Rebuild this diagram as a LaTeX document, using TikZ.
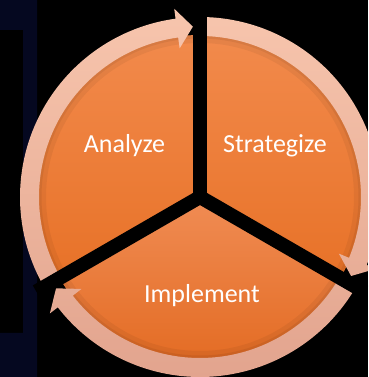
\documentclass[tikz,border=0pt]{standalone}
\usepackage{fontspec}
\setmainfont{Carlito}
\definecolor{navy}{RGB}{5,8,32}
\definecolor{orTop}{RGB}{242,138,76}
\definecolor{orBot}{RGB}{228,106,28}
\definecolor{imTop}{RGB}{240,140,84}
\definecolor{imBot}{RGB}{226,104,30}
\definecolor{rgTop}{RGB}{247,197,173}
\definecolor{rgBot}{RGB}{226,164,142}
\tikzset{
  lbl/.style={text=white, font=\fontsize{26}{30}\selectfont, anchor=base, inner sep=0pt},
  gap/.style={draw=black, line width=14pt}
}
\begin{document}
\begin{tikzpicture}[x=1pt,y=1pt]
\useasboundingbox (0,0) rectangle (368,377);
\clip (0,0) rectangle (368,377);
\fill[black] (0,0) rectangle (368,377);
% faint navy bracket on the left
\fill[navy] (0,377) -- (37,377) -- (37,0) -- (0,0) -- (0,44) -- (23,44) -- (23,347) -- (0,347) -- cycle;
\coordinate (c) at (200,180);
\begin{scope}[shift={(200,180)}]
  % orange disc
  \shade[top color=orTop, bottom color=orBot] (0,0) circle[radius=162];
  \shade[top color=imTop, bottom color=imBot] (0,0) -- (-30:162) arc[start angle=-30,end angle=-150,radius=162] -- cycle;
  % soft inner shadow under the ring
  \draw[black, opacity=0.05, line width=8pt] (0,0) circle[radius=158];
  \draw[black, opacity=0.06, line width=3pt] (0,0) circle[radius=160];
  % circular arrows
  \shade[top color=rgTop, bottom color=rgBot]
    (211:180) arc[start angle=211,end angle=97.8,radius=180] -- (97.8:190) -- (92.4:170.5) -- (97.8:150) -- (97.8:161) arc[start angle=97.8,end angle=211,radius=161] -- cycle
    (91:180) arc[start angle=91,end angle=-22.2,radius=180] -- (-22.2:190) -- (-27.6:170.5) -- (-22.2:150) -- (-22.2:161) arc[start angle=-22.2,end angle=91,radius=161] -- cycle
    (-29:180) arc[start angle=-29,end angle=-142.2,radius=180] -- (-142.2:190) -- (-147.6:170.5) -- (-142.2:150) -- (-142.2:161) arc[start angle=-142.2,end angle=-29,radius=161] -- cycle;
  % black gaps
  \path[gap] (0,0) -- (90:190);
  \path[gap] (0,0) -- (-30:190);
  \path[gap] (0,0) -- (210:189);
  \fill[black] (0,0) circle[radius=7];
\end{scope}
\node[lbl] (analyze) at (124.5,224) {Analyze};
\node[lbl] (strategize) at (275,224) {Strategize};
\node[lbl] (implement) at (202,74) {Implement};
\end{tikzpicture}
\end{document}
